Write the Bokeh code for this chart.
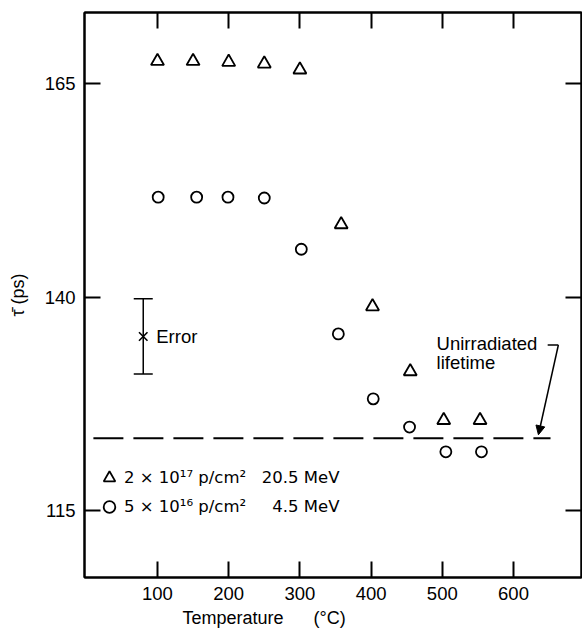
from bokeh.plotting import figure
from bokeh.models import (Range1d, LinearAxis, FixedTicker, Label, Legend,
                          LegendItem, Arrow, NormalHead, Title)
from bokeh.embed import file_html
from bokeh.resources import INLINE

# ---- data ----
temps_20mev = [100, 150, 200, 250, 300, 358, 402, 455, 502, 553]
tau_20mev = [167.6, 167.6, 167.5, 167.3, 166.6, 148.5, 138.9, 131.3, 125.6, 125.6]
temps_4mev = [101, 155, 199, 250, 302, 354, 403, 454, 505, 555]
tau_4mev = [151.7, 151.7, 151.7, 151.6, 145.6, 135.7, 128.1, 124.8, 121.9, 121.9]
unirr_x = [10, 652]
unirr_tau = [123.5, 123.5]
err_x = [80]
err_mid = [135.4]
err_lo = [131.0]
err_hi = [139.8]
x_ticks = [100, 200, 300, 400, 500, 600]
y_ticks = [115, 140, 165]
label_20 = "2 × 10¹⁷ p/cm²\u00a0\u00a0\u00a020.5 MeV"
label_4 = "5 × 10¹⁶ p/cm²\u00a0\u00a0\u00a0\u20074.5 MeV"

FONT = "Liberation Sans"

p = figure(width=582, height=635, output_backend="svg", toolbar_location=None,
           x_range=Range1d(-2.5, 695.5), y_range=Range1d(107.2, 173.3),
           min_border_left=84, min_border_right=1, min_border_top=12,
           min_border_bottom=58)
p.background_fill_color = "white"
p.border_fill_color = "white"
p.outline_line_color = "black"
p.outline_line_width = 2
p.grid.visible = False

for ax in p.xaxis:
    ax.ticker = FixedTicker(ticks=x_ticks)
for ax in p.yaxis:
    ax.ticker = FixedTicker(ticks=y_ticks)

for ax in list(p.xaxis) + list(p.yaxis):
    ax.major_tick_in = 16
    ax.major_tick_out = 0
    ax.minor_tick_line_color = None
    ax.axis_line_width = 2
    ax.axis_line_color = "black"
    ax.major_tick_line_width = 2
    ax.major_tick_line_color = "black"
    ax.major_label_text_font = FONT
    ax.major_label_text_font_size = "18.5px"
    ax.major_label_text_color = "black"
    ax.axis_label_text_font = FONT
    ax.axis_label_text_font_style = "normal"
    ax.axis_label_text_font_size = "18px"
    ax.axis_label_text_color = "black"

p.xaxis.major_label_standoff = 9
p.yaxis.major_label_standoff = 9
p.yaxis.axis_label = "τ\u0304 (ps)"
p.yaxis.axis_label_standoff = 14

# top and right axes (ticks only, labels not drawn)
top = LinearAxis(ticker=FixedTicker(ticks=x_ticks))
right = LinearAxis(ticker=FixedTicker(ticks=y_ticks))
for ax in (top, right):
    ax.major_tick_in = 16
    ax.major_tick_out = 0
    ax.minor_tick_line_color = None
    ax.axis_line_width = 2
    ax.major_tick_line_width = 2
    ax.major_label_text_color = None
    ax.major_label_text_font_size = "1px"
    ax.major_label_standoff = 0
p.add_layout(top, "above")
p.add_layout(right, "right")

# x title, placed left of centre as in the original
p.add_layout(Title(text="Temperature\u00a0\u00a0\u00a0\u00a0\u00a0\u00a0(°C)", align="left",
                   offset=98, text_font=FONT, text_font_size="18px",
                   text_font_style="normal", text_color="black", standoff=6),
             "below")

# data
tri = p.scatter(temps_20mev, tau_20mev, marker="triangle", size=13,
                fill_color=None, line_color="black", line_width=1.8)
circ = p.scatter(temps_4mev, tau_4mev, marker="circle", size=11,
                 fill_color=None, line_color="black", line_width=1.8)

# unirradiated lifetime
p.line(unirr_x, unirr_tau, line_color="black", line_width=2, line_dash="30 10")

# error bar
p.segment(x0=err_x, y0=err_lo, x1=err_x, y1=err_hi, line_color="black", line_width=1.5)
p.scatter(err_x, err_lo, marker="dash", size=19, line_color="black", line_width=1.5)
p.scatter(err_x, err_hi, marker="dash", size=19, line_color="black", line_width=1.5)
p.scatter(err_x, err_mid, marker="x", size=12, line_color="black", line_width=1.6)
p.add_layout(Label(x=err_x[0], y=err_mid[0], x_offset=13, text="Error",
                   text_font=FONT, text_font_size="18.5px", text_baseline="middle",
                   text_color="black"))

# annotation
p.add_layout(Label(x=492, y=134.55, text="Unirradiated", text_font=FONT,
                   text_font_size="18.5px", text_baseline="middle", text_color="black"))
p.add_layout(Label(x=492, y=132.3, text="lifetime", text_font=FONT,
                   text_font_size="18.5px", text_baseline="middle", text_color="black"))
p.line([648, 663], [134.4, 134.4], line_color="black", line_width=1.5)
p.add_layout(Arrow(x_start=663, y_start=134.4, x_end=635, y_end=123.9,
                   line_color="black", line_width=1.5,
                   end=NormalHead(size=9, fill_color="black", line_color="black")))

legend = Legend(items=[LegendItem(label=label_20, renderers=[tri]),
                       LegendItem(label=label_4, renderers=[circ])],
                location=(10, 56), border_line_color=None,
                background_fill_alpha=0, padding=0, margin=0, spacing=0,
                glyph_width=30, glyph_height=29, label_height=29,
                label_standoff=0, label_text_font="DejaVu Sans",
                label_text_font_size="16.5px", label_text_color="black")
p.add_layout(legend, "center")

open("out.html", "w").write(file_html(p, INLINE))
